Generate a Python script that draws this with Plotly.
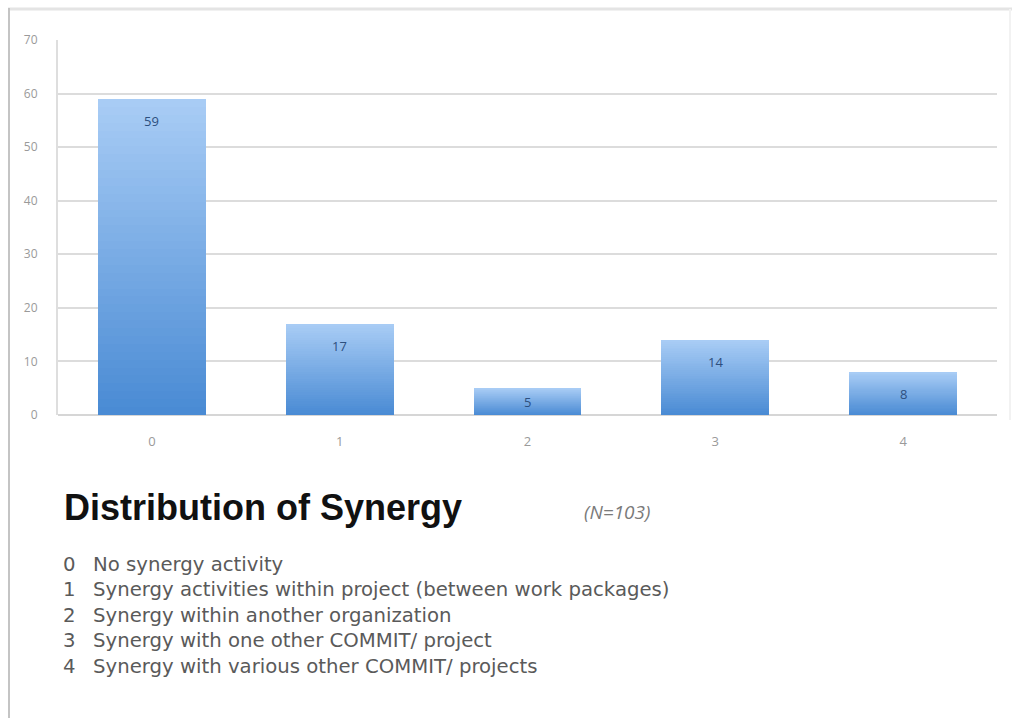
import plotly.graph_objects as go

# Synergy level (0-4) and number of projects at each level
categories = ["0", "1", "2", "3", "4"]
counts = [59, 17, 5, 14, 8]
total_n = 103

legend_lines = [
    ("0", "No synergy activity"),
    ("1", "Synergy activities within project (between work packages)"),
    ("2", "Synergy within another organization"),
    ("3", "Synergy with one other COMMIT/ project"),
    ("4", "Synergy with various other COMMIT/ projects"),
]

W, H = 1017, 718
L, R, T, B = 58, 20, 40, 303

TOP_RGB = (168, 204, 245)
BOTTOM_RGB = (74, 139, 212)
N_BANDS = 40


def mix(k):
    f = k / (N_BANDS - 1)
    r, g, b = (round(BOTTOM_RGB[i] + (TOP_RGB[i] - BOTTOM_RGB[i]) * f) for i in range(3))
    return f"rgb({r},{g},{b})"


fig = go.Figure()

# each bar is shaded from dark at the base to light at the top: successive
# layers start higher up and always reach the bar's value, so no seams show
for k in range(N_BANDS):
    fig.add_trace(go.Bar(
        x=categories,
        y=[v * (N_BANDS - k) / N_BANDS for v in counts],
        base=[v * k / N_BANDS for v in counts],
        width=0.575,
        marker=dict(color=mix(k), line=dict(width=0)),
        hoverinfo="skip",
        showlegend=False,
    ))

# value labels just inside the top of each bar
for c, v in zip(categories, counts):
    fig.add_annotation(
        x=c, y=v - min(4.1, v / 2), text=str(v), showarrow=False,
        xref="x", yref="y",
        font=dict(family="Open Sans", size=13, color="#2d4f7e"),
    )


def px_x(px):
    return (px - L) / (W - L - R)


def px_y(py):
    return (H - B - py) / (H - T - B)


fig.add_annotation(
    x=px_x(62), y=px_y(507), xref="paper", yref="paper",
    xanchor="left", yanchor="middle", showarrow=False,
    text="<b>Distribution of Synergy</b>",
    font=dict(family="Liberation Sans", size=36, color="#111111"),
)
fig.add_annotation(
    x=px_x(582), y=px_y(512), xref="paper", yref="paper",
    xanchor="left", yanchor="middle", showarrow=False,
    text=f"<i>(N={total_n})</i>",
    font=dict(family="Open Sans", size=19, color="#7a7a7a"),
)

for i, (num, desc) in enumerate(legend_lines):
    yy = px_y(564 + 25.5 * i)
    fig.add_annotation(
        x=px_x(61), y=yy, xref="paper", yref="paper",
        xanchor="left", yanchor="middle", showarrow=False,
        text=num, font=dict(family="DejaVu Sans", size=19.7, color="#5a5a5a"),
    )
    fig.add_annotation(
        x=px_x(91), y=yy, xref="paper", yref="paper",
        xanchor="left", yanchor="middle", showarrow=False,
        text=desc, font=dict(family="DejaVu Sans", size=19.7, color="#5a5a5a"),
    )

# outer frame
fig.add_shape(type="line", xref="paper", yref="paper",
              x0=px_x(8), x1=px_x(1012), y0=px_y(9), y1=px_y(9),
              line=dict(color="#e4e4e4", width=3))
fig.add_shape(type="line", xref="paper", yref="paper",
              x0=px_x(9), x1=px_x(9), y0=px_y(8), y1=px_y(718),
              line=dict(color="#c4c4c4", width=2))
fig.add_shape(type="line", xref="paper", yref="paper",
              x0=px_x(1010), x1=px_x(1010), y0=px_y(9), y1=px_y(420),
              line=dict(color="#f2f2f2", width=2))

fig.update_layout(
    width=W, height=H,
    margin=dict(l=L, r=R, t=T, b=B),
    paper_bgcolor="white", plot_bgcolor="white",
    barmode="overlay", bargap=0,
    showlegend=False,
    xaxis=dict(
        type="category", categoryorder="array", categoryarray=categories,
        showgrid=False, showline=False, zeroline=False,
        ticks="", ticklabelstandoff=17,
        tickfont=dict(family="Open Sans", size=13, color="#9a9a9a"),
        fixedrange=True,
    ),
    yaxis=dict(
        range=[0, 70], dtick=10, tick0=0,
        showgrid=True, gridcolor="#dcdcdc", gridwidth=2,
        zeroline=True, zerolinecolor="#d6d6d6", zerolinewidth=2,
        showline=True, linecolor="#dedede", linewidth=2,
        ticks="", ticklabelstandoff=16,
        tickfont=dict(family="Open Sans", size=12, color="#9a9a9a"),
        fixedrange=True,
    ),
)

fig.write_html("out.html")
